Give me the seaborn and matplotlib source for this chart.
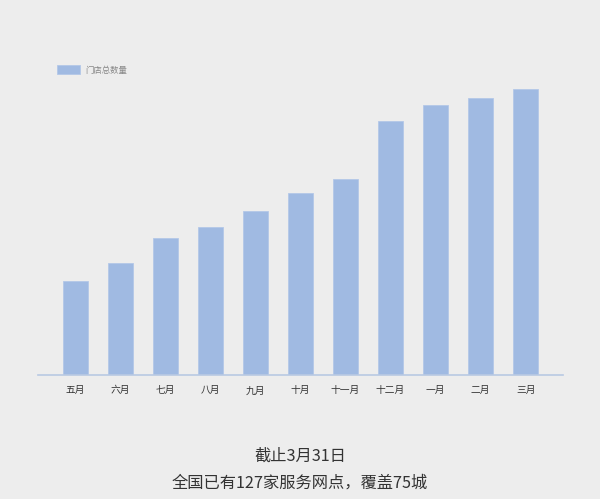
import matplotlib
matplotlib.use("Agg")
import matplotlib.pyplot as plt
import seaborn as sns
import pandas as pd

months = ['五月', '六月', '七月', '八月', '九月', '十月', '十一月', '十二月', '一月', '二月', '三月']
store_counts = [42, 50, 61, 66, 73, 81, 87, 113, 120, 123, 127]
legend_label = '门店总数量'
caption_lines = ['截止3月31日', '全国已有127家服务网点，覆盖75城']

bg = '#EDEDED'
bar_color = '#A0BAE2'

sns.set_theme(style='white')
plt.rcParams['font.family'] = ['Noto Sans CJK SC', 'DejaVu Sans']

df = pd.DataFrame({'month': months, 'count': store_counts})

fig = plt.figure(figsize=(6.0, 4.99), dpi=100, facecolor=bg)
ax = fig.add_axes([38 / 600, 124 / 499, 525 / 600, 315 / 499])
ax.set_facecolor(bg)

sns.barplot(data=df, x='month', y='count', color=bar_color, width=0.556,
            label=legend_label, saturation=1, edgecolor='#B4C8E8',
            linewidth=0.6, ax=ax)

ax.set_xlim(-0.83, 10.83)
ax.set_ylim(0, 140)
ax.set_xlabel('')
ax.set_ylabel('')
ax.set_yticks([])
for side in ['top', 'right', 'left']:
    ax.spines[side].set_visible(False)
ax.spines['bottom'].set_color('#B9C9E3')
ax.spines['bottom'].set_linewidth(1.2)
ax.tick_params(axis='x', length=0, pad=7.5, labelsize=7, labelcolor='#333333')

leg = ax.legend(loc='center left', bbox_to_anchor=(57 / 600, 1 - 70 / 499),
                bbox_transform=fig.transFigure, frameon=False, fontsize=6,
                handlelength=2.8, handleheight=1.2, handletextpad=0.6,
                borderaxespad=0, borderpad=0)
for t in leg.get_texts():
    t.set_color('#888888')

fig.text(0.5, 1 - 456 / 499, caption_lines[0], ha='center', va='center',
         fontsize=11.7, color='#333333')
fig.text(0.5, 1 - 483 / 499, caption_lines[1], ha='center', va='center',
         fontsize=11.7, color='#333333')

fig.savefig('out.png', dpi=100, facecolor=bg)
